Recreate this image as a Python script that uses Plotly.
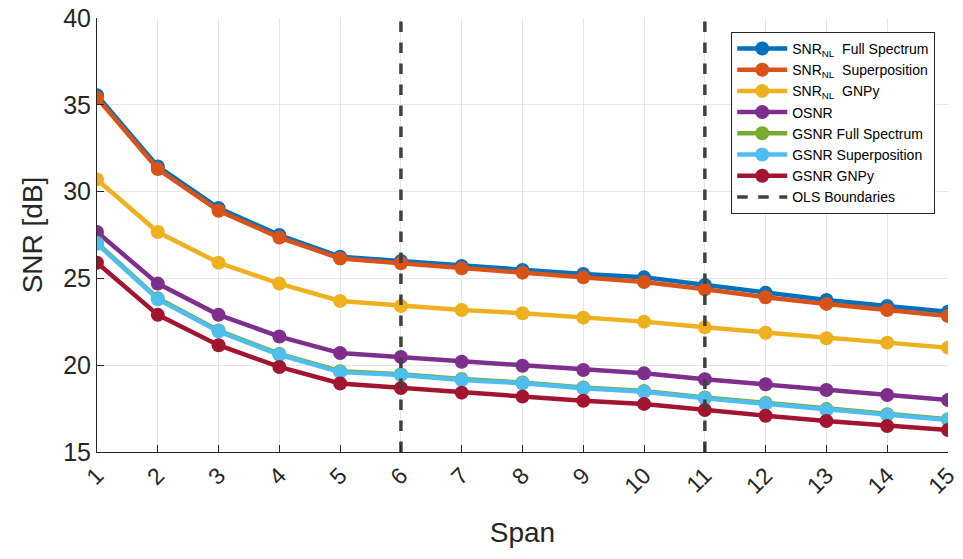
import plotly.graph_objects as go

spans = list(range(1, 16))
snr_nl_full = [35.55, 31.45, 29.05, 27.5, 26.25, 26.0, 25.71, 25.48, 25.25, 25.06, 24.62, 24.18, 23.76, 23.41, 23.08]
snr_nl_sup = [35.4, 31.3, 28.9, 27.35, 26.15, 25.87, 25.58, 25.33, 25.06, 24.79, 24.37, 23.91, 23.53, 23.18, 22.83]
snr_nl_gnpy = [30.7, 27.67, 25.9, 24.7, 23.7, 23.41, 23.18, 22.99, 22.74, 22.51, 22.18, 21.87, 21.55, 21.3, 21.01]
osnr = [27.67, 24.7, 22.9, 21.65, 20.7, 20.47, 20.2, 19.97, 19.72, 19.53, 19.19, 18.9, 18.57, 18.28, 17.99]
gsnr_full = [27.05, 23.85, 22.0, 20.65, 19.65, 19.48, 19.2, 19.0, 18.72, 18.52, 18.14, 17.82, 17.47, 17.18, 16.89]
gsnr_sup = [27.0, 23.8, 21.95, 20.6, 19.6, 19.43, 19.15, 18.96, 18.67, 18.47, 18.09, 17.77, 17.42, 17.13, 16.84]
gsnr_gnpy = [25.9, 22.9, 21.15, 19.9, 18.95, 18.69, 18.42, 18.19, 17.95, 17.77, 17.42, 17.09, 16.79, 16.5, 16.27]
ols_boundaries = [6, 11]
y_range = [15, 40]

series = [
    ("SNR<sub>NL</sub>  Full Spectrum", snr_nl_full, "#0072BD"),
    ("SNR<sub>NL</sub>  Superposition", snr_nl_sup, "#D95319"),
    ("SNR<sub>NL</sub>  GNPy", snr_nl_gnpy, "#EDB120"),
    ("OSNR", osnr, "#7E2F8E"),
    ("GSNR Full Spectrum", gsnr_full, "#77AC30"),
    ("GSNR Superposition", gsnr_sup, "#4DBEEE"),
    ("GSNR GNPy", gsnr_gnpy, "#A2142F"),
]

fig = go.Figure()
for name, vals, col in series:
    fig.add_trace(go.Scatter(
        x=spans, y=vals, name=name, mode="lines+markers",
        line=dict(color=col, width=4.5),
        marker=dict(color=col, size=14),
    ))

bx, by = [], []
for b in ols_boundaries:
    bx += [b, b, None]
    by += [y_range[0], y_range[1], None]
fig.add_trace(go.Scatter(
    x=bx, y=by, name="OLS Boundaries", mode="lines",
    line=dict(color="#404040", width=3.5, dash="dash"),
))

font_family = "Liberation Sans, Arial, sans-serif"
fig.update_layout(
    width=963, height=559,
    paper_bgcolor="white", plot_bgcolor="white",
    margin=dict(l=97, r=15, t=18, b=107),
    font=dict(family=font_family, color="#262626"),
    xaxis=dict(
        range=[1, 15], tickmode="array", tickvals=spans,
        ticktext=[str(s) for s in spans], tickangle=-45,
        tickfont=dict(size=23, color="#262626"),
        showgrid=True, gridcolor="#E6E6E6", gridwidth=1,
        showline=True, linecolor="#262626", linewidth=1,
        ticks="inside", ticklen=7, tickcolor="#262626",
        zeroline=False, automargin=False, ticklabeloverflow="allow",
        title=dict(text="Span", font=dict(size=28, color="#262626"), standoff=24),
    ),
    yaxis=dict(
        range=y_range, tickmode="array", tickvals=[15, 20, 25, 30, 35, 40],
        tickfont=dict(size=25, color="#262626"),
        showgrid=True, gridcolor="#E6E6E6", gridwidth=1,
        showline=True, linecolor="#262626", linewidth=1,
        ticks="inside", ticklen=7, tickcolor="#262626",
        zeroline=False, automargin=False, ticklabeloverflow="allow",
        title=dict(text="SNR [dB]", font=dict(size=28, color="#262626"), standoff=12),
    ),
    legend=dict(
        x=0.985, y=0.968, xanchor="right", yanchor="top",
        bgcolor="white", bordercolor="#262626", borderwidth=1,
        font=dict(size=14, color="#000000"),
        tracegroupgap=0, itemwidth=50,
    ),
    showlegend=True,
)

fig.write_html("out.html", config={"displayModeBar": False},
               post_script="document.body.style.margin='0';")
